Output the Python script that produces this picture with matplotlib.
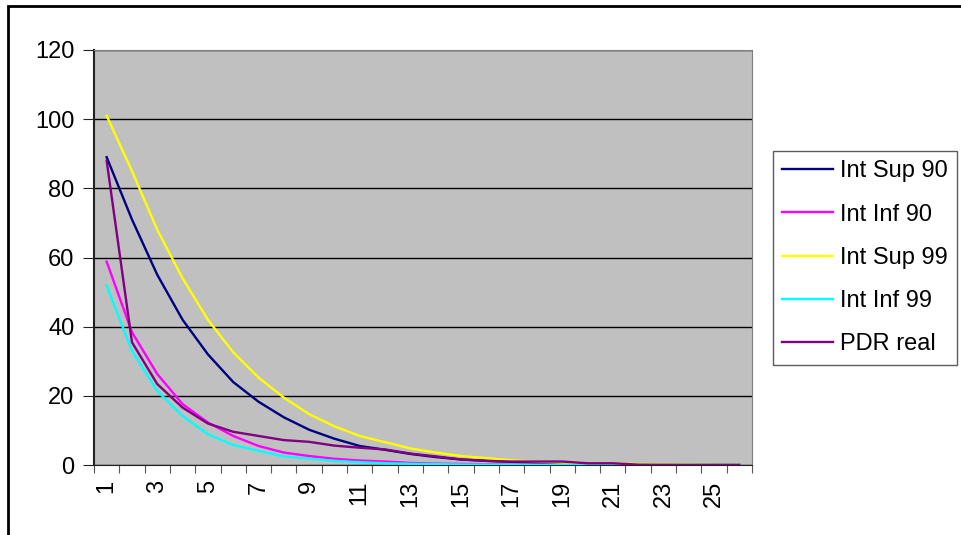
import numpy as np
import matplotlib.pyplot as plt
from matplotlib.patches import Rectangle

plt.rcParams['font.family'] = ['Liberation Sans', 'DejaVu Sans']

#### Data
categories = list(range(1, 27))
int_sup_90 = [89, 71, 55, 42, 32, 24, 18.3, 13.8, 10.2, 7.6, 5.5, 4.4, 3.2, 2.3, 1.6,
              1.2, 0.9, 0.6, 0.45, 0.3, 0.2, 0.15, 0.1, 0.05, 0.03, 0.02]
int_inf_90 = [58.8, 38.4, 26.3, 17.6, 12.3, 8.4, 5.5, 3.6, 2.6, 1.8, 1.3, 1.0, 0.6, 0.4, 0.3,
              0.2, 0.1, 0.08, 0.05, 0.03, 0.02, 0.01, 0.01, 0, 0, 0]
int_sup_99 = [101, 85, 68, 54, 42, 32.6, 25.3, 19.5, 14.7, 11.2, 8.4, 6.6, 4.8, 3.6, 2.6,
              2.0, 1.35, 1.0, 0.7, 0.5, 0.4, 0.3, 0.2, 0.1, 0.05, 0.03]
int_inf_99 = [51.9, 33, 21.4, 14.2, 8.9, 5.8, 4.1, 2.5, 1.8, 1.2, 0.8, 0.5, 0.35, 0.25, 0.15,
              0.1, 0.07, 0.05, 0.03, 0.02, 0.01, 0.01, 0, 0, 0, 0]
pdr_real = [88, 35.5, 23.4, 16.6, 12.0, 9.6, 8.4, 7.2, 6.7, 5.6, 5.0, 4.5, 3.3, 2.5, 1.6,
            1.2, 1.0, 1.0, 1.0, 0.5, 0.5, 0.1, 0.05, 0, 0, 0]

series = [("Int Sup 90", int_sup_90, "#000080"),
          ("Int Inf 90", int_inf_90, "#FF00FF"),
          ("Int Sup 99", int_sup_99, "#FFFF00"),
          ("Int Inf 99", int_inf_99, "#00FFFF"),
          ("PDR real", pdr_real, "#800080")]

W, H = 962, 535
FS = 17
fig = plt.figure(figsize=(W / 100, H / 100), dpi=100)
ax = fig.add_axes([94 / W, 1 - 465 / H, (752 - 94) / W, (465 - 50) / H])
ax.set_facecolor("#C0C0C0")

for name, vals, col in series:
    ax.plot(categories, vals, color=col, lw=1.7, label=name, zorder=3)

ax.set_xlim(0.5, 26.5)
ax.set_ylim(0, 120)
ax.set_yticks(np.arange(0, 121, 20))
ax.yaxis.grid(True, color="black", lw=1)
ax.set_axisbelow(True)

# category ticks sit between categories, labels on every other one
ax.set_xticks(np.arange(0.5, 27, 1))
ax.set_xticklabels([])
ax.set_xticks(categories[::2], minor=True)
ax.set_xticklabels([str(c) for c in categories[::2]], minor=True, rotation=90)
ax.tick_params(axis="x", which="minor", length=0, pad=11, labelsize=FS)
ax.tick_params(axis="x", which="major", length=6, color="#555555", direction="out")
ax.tick_params(axis="y", length=8, color="#222222", pad=6, labelsize=FS)

for s in ["top", "right"]:
    ax.spines[s].set_color("#808080")
ax.spines["left"].set_color("#222222")
ax.spines["bottom"].set_color("#222222")
ax.spines["left"].set_linewidth(1.5)

leg = fig.legend(loc="upper left", bbox_to_anchor=(773 / W, 1 - 151 / H),
                 frameon=True, fancybox=False, fontsize=FS, handlelength=2.15,
                 handletextpad=0.3, labelspacing=0.9, borderpad=0.4,
                 borderaxespad=0)
leg.get_frame().set_edgecolor("#333333")
leg.get_frame().set_linewidth(1)
for l in leg.get_lines():
    l.set_linewidth(1.7)

fig.patches.append(Rectangle((8 / W, -0.01), (W + 10 - 8) / W, 1 - 6 / H + 0.01,
                             transform=fig.transFigure, fill=False,
                             edgecolor="black", lw=2))

fig.savefig("out.png", dpi=100)
